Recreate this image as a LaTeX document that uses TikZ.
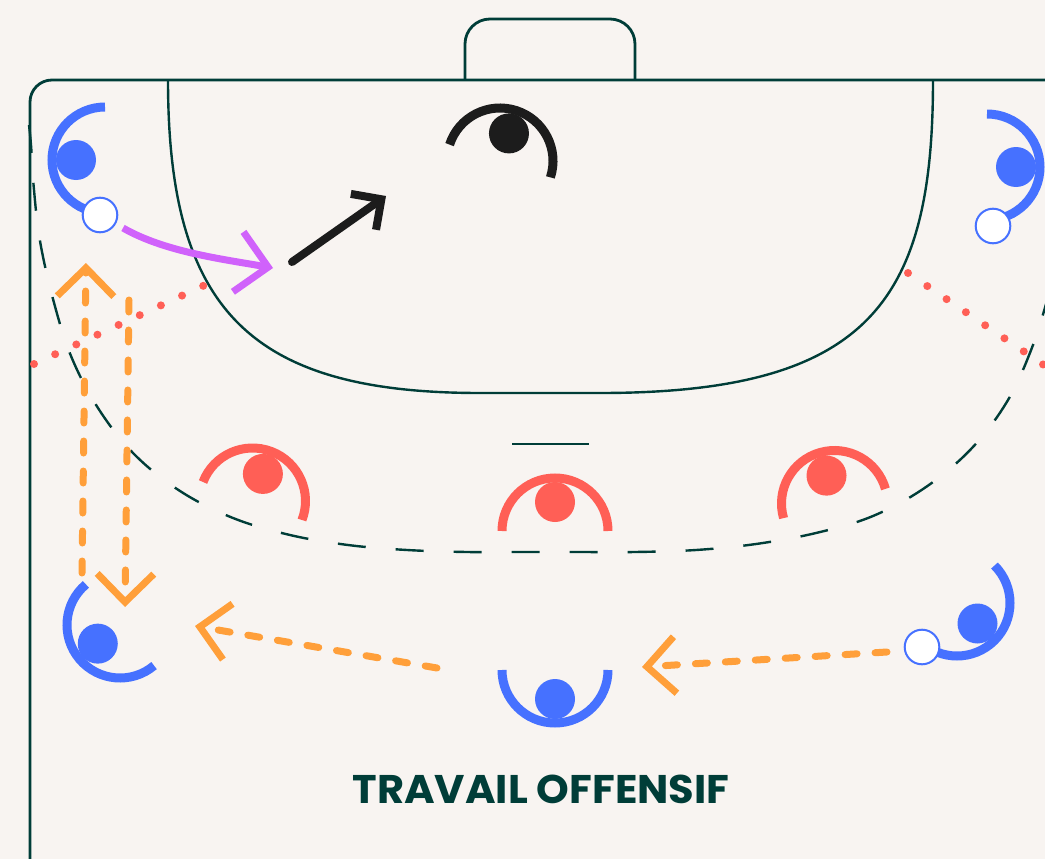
\documentclass[tikz,border=0pt]{standalone}
\usepackage{fontspec}
\newfontfamily\titlefont{Poppins}
\usetikzlibrary{arrows.meta}
\definecolor{bgc}{HTML}{F8F4F1}
\definecolor{court}{HTML}{003D38}
\definecolor{pblue}{HTML}{4671FF}
\definecolor{pred}{HTML}{FF5F56}
\definecolor{pblack}{HTML}{1C1C1C}
\definecolor{ppurple}{HTML}{D062FB}
\definecolor{porange}{HTML}{FF9F3A}
\tikzset{
  courtline/.style={draw=court, line width=2.8pt},
  arealine/.style={draw=court, line width=2.4pt},
  nineline/.style={draw=court, line width=2.4pt, dash pattern=on 28pt off 30pt},
  dotline/.style={draw=pred, line width=8pt, line cap=round, dash pattern=on 0pt off 23.3pt},
  ball/.style={circle, draw=pblue, line width=2pt, fill=white, minimum size=34.6pt, inner sep=0pt},
  pass/.style={draw=porange, line width=7pt, line cap=round, dash pattern=on 12pt off 18pt, -{Straight Barb[angle=90:40pt]}},
  run/.style={draw=ppurple, line width=7pt, -{Straight Barb[angle=90:43pt]}},
  shot/.style={draw=pblack, line width=8pt, line cap=round, -{Straight Barb[angle=90:31pt]}},
  pics/player/.style 2 args={code={
    \draw[#1, line width=9pt] (#2-90:53) arc[start angle=#2-90, end angle=#2+90, radius=53];
    \fill[#1] (#2:29) circle[radius=20];
  }},
}
\begin{document}
\begin{tikzpicture}[x=1pt, y=-1pt]
\useasboundingbox (0,0) rectangle (1045,859);
\clip (0,0) rectangle (1045,859);
\fill[bgc] (0,0) rectangle (1045,859);
% court
\draw[courtline, rounded corners=22pt] (30,880) -- (30,80) -- (1060,80);
\draw[courtline, rounded corners=25pt] (465,80) -- (465,19) -- (635,19) -- (635,80);
\draw[arealine] (168,80) .. controls (168,310) and (250,393) .. (480,393) -- (600,393) .. controls (870,393) and (933,300) .. (933,80);
\draw[arealine] (512,444) -- (589,444);
\draw[nineline] plot[smooth, tension=0.6] coordinates {(29,125) (31,145) (34,190) (40,241) (53,299) (71,356) (98,408) (134,454) (180,491) (233,518) (290,535) (348,545) (407,550) (467,552) (525,552) (577,552) (635,552) (696,550) (756,544) (816,533) (873,516) (926,487) (972,448) (1008,400) (1033,345) (1050,290)};
% defenders' dotted lines
\draw[dotline] (34,364) -- (205,285);
\draw[dotline] (908,273) -- (1063,378);
% players
\coordinate (bTL) at (105,160);
\coordinate (bTR) at (987,167);
\coordinate (bBL) at (120,625);
\coordinate (bBC) at (555,670);
\coordinate (bBR) at (957,603);
\coordinate (rL) at (252.5,501);
\coordinate (rC) at (555,531);
\coordinate (rR) at (834.5,503.5);
\coordinate (gk) at (500,161);
\pic at (bTL) {player={pblue}{180}};
\pic at (bTR) {player={pblue}{0}};
\pic at (bBL) {player={pblue}{140}};
\pic at (bBC) {player={pblue}{90}};
\pic at (bBR) {player={pblue}{45}};
\pic at (rL) {player={pred}{-69}};
\pic at (rC) {player={pred}{-90}};
\pic at (rR) {player={pred}{-106}};
\pic at (gk) {player={pblack}{-72}};
% balls
\node[ball] (ballTL) at (100,215) {};
\node[ball] (ballTR) at (993,226) {};
\node[ball] (ballBR) at (922,647) {};
% arrows
\coordinate (runS) at (123,228);
\coordinate (runE) at (273,268);
\draw[run] (runS) .. controls (165,252) and (222,259) .. (runE);
\coordinate (shotS) at (292,262);
\coordinate (shotE) at (386,196);
\draw[shot] (shotS) -- (shotE);
\coordinate (p1S) at (82,573);
\coordinate (p1E) at (86,263);
\draw[pass] (p1S) -- (p1E);
\coordinate (p2S) at (129,300);
\coordinate (p2E) at (125,607);
\draw[pass] (p2S) -- (p2E);
\coordinate (p3S) at (437,668);
\coordinate (p3E) at (195,626);
\draw[pass] (p3S) -- (p3E);
\coordinate (p4S) at (887,652);
\coordinate (p4E) at (642,667);
\draw[pass] (p4S) -- (p4E);
% title
\node[text=court, font=\titlefont\bfseries\fontsize{40}{40}\selectfont] (title) at (541,789) {\scalebox{1.04}[1]{TRAVAIL OFFENSIF}};
\end{tikzpicture}
\end{document}
